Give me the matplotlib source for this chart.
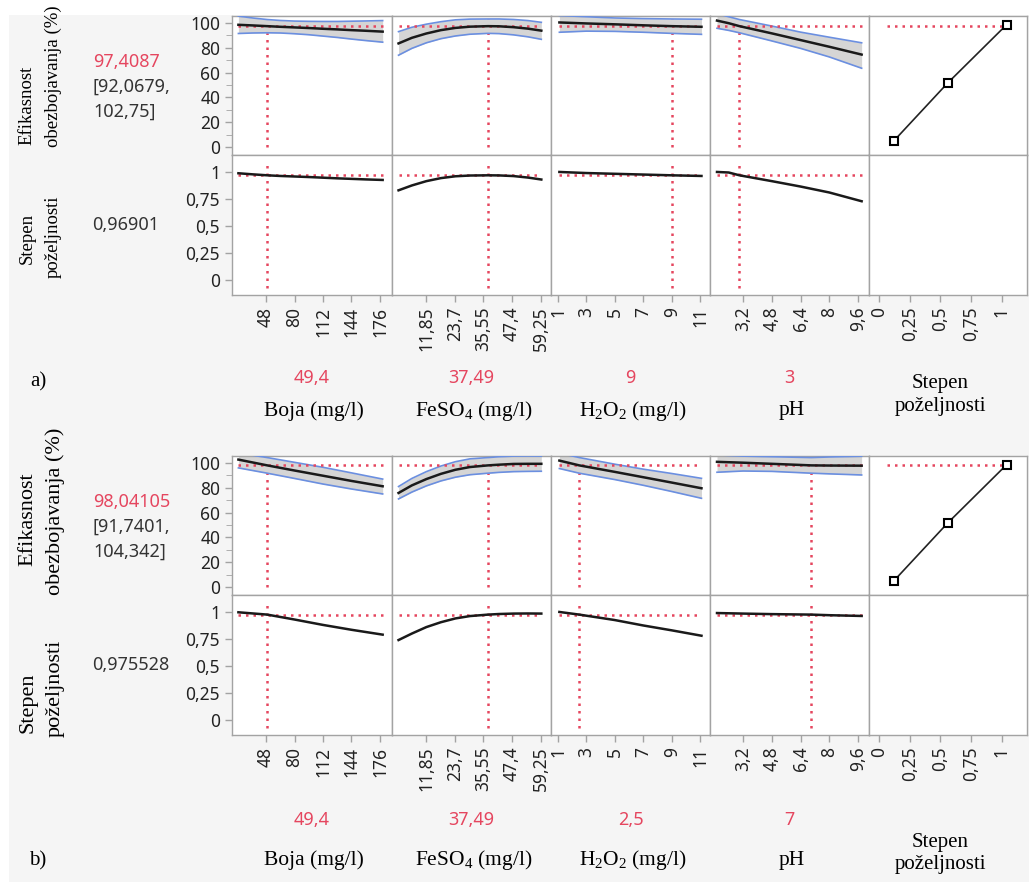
import matplotlib.pyplot as plt
from matplotlib.patches import Rectangle

plt.rcParams['mathtext.fontset'] = 'custom'
plt.rcParams['mathtext.rm'] = 'Liberation Serif'
plt.rcParams['mathtext.it'] = 'Liberation Serif:italic'

W, H = 1029, 882
SANS = 'Noto Sans'
SERIF = 'Liberation Serif'
RED = '#e5465f'
BLUE = '#6b8fe0'
BAND = '#d5d5d5'
FRAME = '#a3a3a3'

factor_names = ['Boja (mg/l)', 'FeSO$_4$ (mg/l)', 'H$_2$O$_2$ (mg/l)', 'pH']
boja_ticks = [48, 80, 112, 144, 176]
feso4_ticks = [11.85, 23.7, 35.55, 47.4, 59.25]
h2o2_ticks = [1, 3, 5, 7, 9, 11]
ph_ticks = [3.2, 4.8, 6.4, 8, 9.6]
des_ticks = [0, 0.25, 0.5, 0.75, 1]
eff_ticks = [0, 20, 40, 60, 80, 100]

# panel a)
a_current = [49.4, 37.49, 9, 3]
a_pred, a_lo, a_hi, a_des = 97.4087, 92.0679, 102.75, 0.96901

a_boja_x = [17, 33, 49.4, 64, 80, 96, 112, 128, 144, 160, 179]
a_boja_y = [98.5, 98.0, 97.41, 96.9, 96.4, 95.9, 95.3, 94.8, 94.2, 93.7, 93.0]
a_boja_hi = [105.5, 104.0, 102.75, 102.0, 101.5, 101.3, 101.2, 101.2, 101.4,
             101.6, 101.9]
a_boja_lo = [91.5, 91.9, 92.07, 91.9, 91.3, 90.5, 89.4, 88.3, 87.0, 85.8, 84.5]
a_boja_d = [0.988, 0.978, 0.969, 0.963, 0.958, 0.953, 0.947, 0.941, 0.936,
            0.931, 0.926]

a_feso4_x = [0.5, 6, 12, 18, 24, 30, 37.49, 42, 48, 54, 59.5]
a_feso4_y = [83.5, 88.0, 91.5, 94.2, 96.0, 97.0, 97.41, 97.3, 96.6, 95.4, 93.8]
a_feso4_hi = [93.0, 96.5, 99.0, 101.0, 102.5, 103.1, 103.2, 103.2, 102.8,
              101.9, 100.5]
a_feso4_lo = [74.0, 79.5, 84.0, 87.3, 89.5, 90.9, 91.6, 91.4, 90.4, 88.8, 86.8]
a_feso4_d = [0.83, 0.875, 0.915, 0.943, 0.96, 0.967, 0.969, 0.968, 0.962,
             0.948, 0.93]

a_h2o2_x = [1.1, 3, 5, 7, 9, 11.1]
a_h2o2_y = [100.4, 99.6, 98.9, 98.1, 97.41, 96.9]
a_h2o2_hi = [106.0, 105.0, 104.0, 103.5, 103.2, 103.0]
a_h2o2_lo = [92.5, 93.4, 93.2, 92.5, 91.6, 90.8]
a_h2o2_d = [1.0, 0.99, 0.983, 0.976, 0.969, 0.963]

a_ph_x = [1.75, 2.4, 3, 4.8, 6.4, 8, 9.8]
a_ph_y = [101.9, 99.8, 97.41, 91.6, 86.2, 80.8, 74.5]
a_ph_hi = [107.5, 105.0, 102.75, 97.5, 92.6, 88.5, 84.0]
a_ph_lo = [95.7, 94.0, 92.07, 85.5, 79.5, 72.6, 63.5]
a_ph_d = [1.0, 0.995, 0.969, 0.915, 0.865, 0.81, 0.729]

# panel b)
b_current = [49.4, 37.49, 2.5, 7]
b_pred, b_lo, b_hi, b_des = 98.04105, 91.7401, 104.342, 0.975528

b_boja_x = [17, 49.4, 80, 112, 144, 179]
b_boja_y = [102.7, 98.04, 93.9, 89.7, 85.5, 81.2]
b_boja_hi = [108.0, 104.34, 100.5, 96.5, 92.0, 87.0]
b_boja_lo = [96.0, 91.74, 87.5, 83.0, 79.0, 75.0]
b_boja_d = [0.997, 0.9755, 0.93, 0.88, 0.835, 0.79]

b_feso4_x = [0.5, 6, 12, 18, 24, 30, 37.49, 42, 48, 54, 59.5]
b_feso4_y = [75.8, 81.9, 87.0, 91.2, 94.5, 96.7, 98.04, 98.6, 99.2, 99.3, 99.3]
b_feso4_hi = [81.0, 87.5, 93.0, 97.5, 101.0, 103.3, 104.34, 105.0, 105.5,
              105.6, 105.5]
b_feso4_lo = [71.0, 76.5, 81.5, 85.5, 88.5, 90.5, 91.74, 92.4, 93.0, 93.2, 93.3]
b_feso4_d = [0.74, 0.80, 0.86, 0.905, 0.94, 0.962, 0.9755, 0.981, 0.985,
             0.986, 0.985]

b_h2o2_x = [1.1, 2.5, 5, 7, 9, 11.1]
b_h2o2_y = [101.9, 98.04, 92.8, 88.5, 84.2, 79.6]
b_h2o2_hi = [108.0, 104.34, 99.0, 95.0, 91.5, 87.6]
b_h2o2_lo = [95.5, 91.74, 86.6, 82.0, 77.0, 71.5]
b_h2o2_d = [1.0, 0.9755, 0.925, 0.875, 0.83, 0.78]

b_ph_x = [1.75, 3.2, 4.8, 7, 8, 9.8]
b_ph_y = [100.9, 100.2, 99.3, 98.04, 97.9, 97.8]
b_ph_hi = [106.5, 105.5, 105.0, 104.34, 104.8, 105.4]
b_ph_lo = [92.5, 93.5, 93.2, 91.74, 91.2, 90.3]
b_ph_d = [0.99, 0.985, 0.98, 0.9755, 0.97, 0.963]

# desirability function (last column)
des_fn_x = [0.12, 0.56, 1.04]
des_fn_y = [4.8, 51.6, 98.6]

# ---- layout ----
col_edges = [232, 392, 551, 710, 869, 1027]
col_xlim = [(9.8, 189.5), (-2.2, 63.5), (0.51, 11.7), (1.36, 10.21), (-0.081, 1.206)]
col_ticks = [boja_ticks, feso4_ticks, h2o2_ticks, ph_ticks, des_ticks]
eff_ylim = (-6.45, 105.6)
des_ylim = (-0.139, 1.157)

# per-panel text placement (pixels): (x, y, va) for rotated labels
a_side = dict(size=13.5, pos=[(27, 145, 'bottom'), (53, 147, 'bottom'),
                              (27, 238, 'center'), (53, 237, 'center')],
              val_y=378, name_y=411, step_y=(383, 407), tag_y=382)
b_side = dict(size=16, pos=[(28, 519, 'center'), (55, 595, 'bottom'),
                            (28, 733, 'bottom'), (55, 737, 'bottom')],
              val_y=820, name_y=860, step_y=(843, 864), tag_y=861)
side_texts = ['Efikasnost', 'obezbojavanja (%)', 'Stepen', 'poželjnosti']


def lbl(v):
    return str(v).replace('.', ',').removesuffix(',0')


def px_axes(fig, x0, y0, x1, y1):
    return fig.add_axes([x0 / W, 1 - y1 / H, (x1 - x0) / W, (y1 - y0) / H])


def ftext(fig, x, y, s, **kw):
    return fig.text(x / W, 1 - y / H, s, **kw)


def style(ax, col, row):
    for sp in ax.spines.values():
        sp.set_color(FRAME)
        sp.set_linewidth(1.0)
    ax.set_xlim(*col_xlim[col])
    ax.tick_params(colors=FRAME, length=5, width=1, labelcolor='#222222',
                   labelsize=12.5)
    if row == 1:
        ax.set_xticks(col_ticks[col])
        ax.set_xticklabels([lbl(t) for t in col_ticks[col]], rotation=90,
                           family=SANS)
    else:
        ax.set_xticks([])
    if col == 0:
        if row == 0:
            ax.set_yticks(eff_ticks)
            ax.set_yticks(range(10, 100, 20), minor=True)
            ax.set_yticklabels([lbl(t) for t in eff_ticks], family=SANS)
            ax.tick_params(axis='y', which='minor', length=4, color=FRAME)
        else:
            ax.set_yticks(des_ticks)
            ax.set_yticklabels([lbl(t) for t in des_ticks], family=SANS)
    else:
        ax.set_yticks([])
    ax.set_ylim(*(eff_ylim if row == 0 else des_ylim))


def draw_panel(fig, top, current, curves, pred, lo, hi, des, tag, side):
    rows = [top, top + 139, top + 279]
    dots = dict(color=RED, lw=1.8, linestyle=(0, (1, 2)))
    for j in range(5):
        ax_r = px_axes(fig, col_edges[j], rows[0], col_edges[j + 1], rows[1])
        ax_d = px_axes(fig, col_edges[j], rows[1], col_edges[j + 1], rows[2])
        style(ax_r, j, 0)
        style(ax_d, j, 1)
        if j < 4:
            x, y, yh, yl, yd = curves[j]
            ax_r.plot([current[j], current[j]], [0, 103], zorder=1, **dots)
            ax_r.fill_between(x, yl, yh, color=BAND, lw=0, zorder=2)
            ax_r.plot(x, yh, color=BLUE, lw=1.2, zorder=3)
            ax_r.plot(x, yl, color=BLUE, lw=1.2, zorder=3)
            ax_r.plot([x[0], x[-1]], [pred, pred], zorder=4, **dots)
            ax_r.plot(x, y, color='#1a1a1a', lw=1.8, zorder=5)
            ax_d.plot([current[j], current[j]], [-0.07, 1.08], **dots)
            ax_d.plot([x[0], x[-1]], [des, des], **dots)
            ax_d.plot(x, yd, color='#1a1a1a', lw=1.8)
        else:
            ax_r.plot([0.065, des_fn_x[-1]], [pred, pred], **dots)
            ax_r.plot(des_fn_x, des_fn_y, color='#222222', lw=1.2,
                      marker='s', ms=6, mfc='white', mec='black', mew=1.5)

    # left-side labels
    for s, (x, y, va) in zip(side_texts, side['pos']):
        ftext(fig, x, y, s, rotation=90, ha='center', va=va, family=SERIF,
              size=side['size'])

    ftext(fig, 93, top + 46, lbl(pred), color=RED, family=SANS, size=13,
          va='center')
    ftext(fig, 93, top + 71, '[' + lbl(lo) + ',', color='#333333',
          family=SANS, size=13, va='center')
    ftext(fig, 93, top + 96, lbl(hi) + ']', color='#333333', family=SANS,
          size=13, va='center')
    ftext(fig, 92, top + 209, lbl(des), color='#333333', family=SANS,
          size=13, va='center')

    # bottom labels
    centers = [(col_edges[j] + col_edges[j + 1]) / 2 for j in range(5)]
    for j in range(4):
        ftext(fig, centers[j], side['val_y'], lbl(current[j]), color=RED,
              family=SANS, size=13, ha='center', va='center')
        ftext(fig, centers[j] + 2, side['name_y'], factor_names[j],
              family=SERIF, size=15.5, ha='center', va='center')
    ftext(fig, centers[4] - 8, side['step_y'][0], 'Stepen', family=SERIF,
          size=15, ha='center', va='center')
    ftext(fig, centers[4] - 8, side['step_y'][1], 'poželjnosti', family=SERIF,
          size=15, ha='center', va='center')
    ftext(fig, 38, side['tag_y'], tag, family=SERIF, size=15, ha='center',
          va='center')


fig = plt.figure(figsize=(W / 100, H / 100), dpi=100)
fig.patch.set_facecolor('white')
fig.add_artist(Rectangle((9 / W, 0), 1, 1 - 15 / H, transform=fig.transFigure,
                         facecolor='#f5f5f5', edgecolor='none', zorder=-10))

a_curves = [
    (a_boja_x, a_boja_y, a_boja_hi, a_boja_lo, a_boja_d),
    (a_feso4_x, a_feso4_y, a_feso4_hi, a_feso4_lo, a_feso4_d),
    (a_h2o2_x, a_h2o2_y, a_h2o2_hi, a_h2o2_lo, a_h2o2_d),
    (a_ph_x, a_ph_y, a_ph_hi, a_ph_lo, a_ph_d),
]
b_curves = [
    (b_boja_x, b_boja_y, b_boja_hi, b_boja_lo, b_boja_d),
    (b_feso4_x, b_feso4_y, b_feso4_hi, b_feso4_lo, b_feso4_d),
    (b_h2o2_x, b_h2o2_y, b_h2o2_hi, b_h2o2_lo, b_h2o2_d),
    (b_ph_x, b_ph_y, b_ph_hi, b_ph_lo, b_ph_d),
]

draw_panel(fig, 16, a_current, a_curves, a_pred, a_lo, a_hi, a_des, 'a)',
           a_side)
draw_panel(fig, 456, b_current, b_curves, b_pred, b_lo, b_hi, b_des, 'b)',
           b_side)

fig.savefig('out.png', dpi=100, facecolor=fig.get_facecolor())
